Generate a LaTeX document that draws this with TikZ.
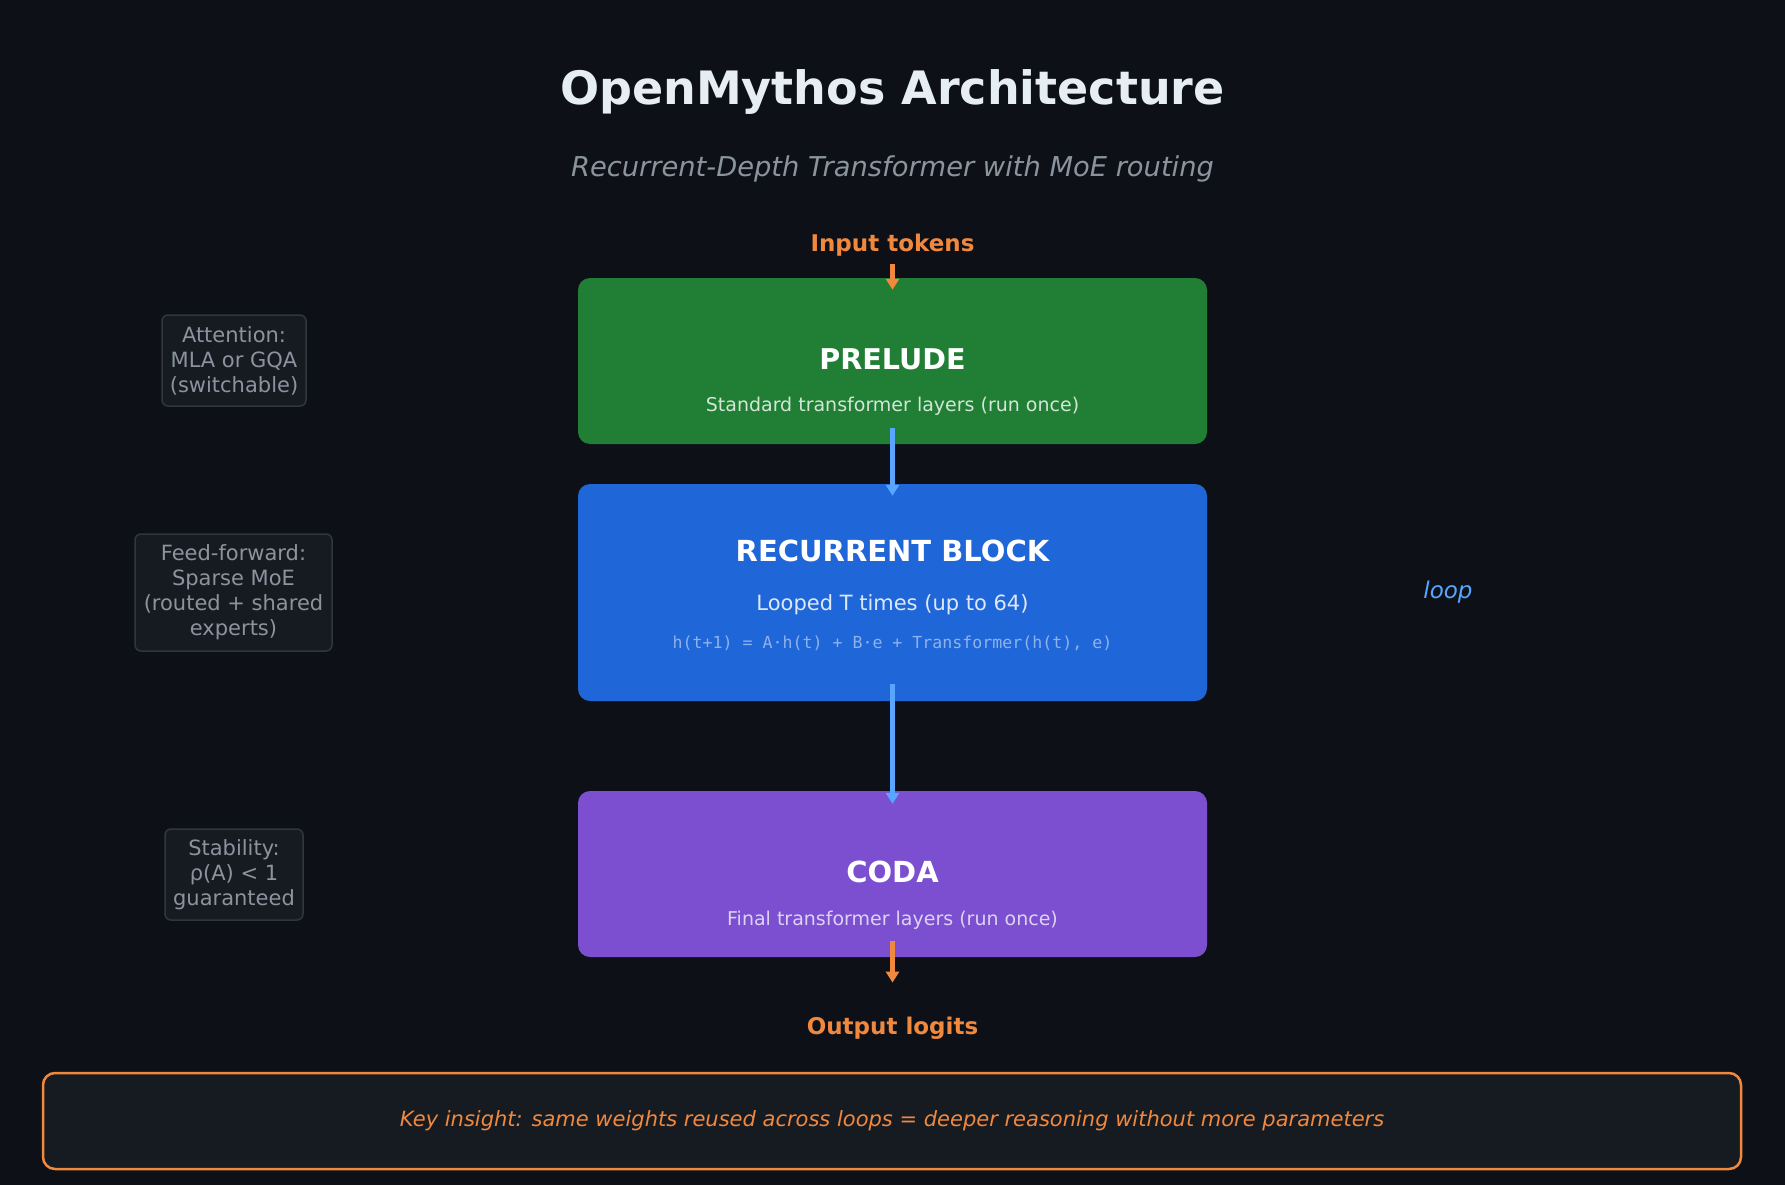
\documentclass[tikz,border=0pt]{standalone}
\usepackage{fontspec}
\setmainfont{DejaVu Sans}
\setmonofont{DejaVu Sans Mono}
\usetikzlibrary{arrows.meta,calc}
\definecolor{bgc}{HTML}{0D1117}
\definecolor{titlec}{HTML}{E6EDF3}
\definecolor{mutedc}{HTML}{8B949E}
\definecolor{orangec}{HTML}{F0883E}
\definecolor{bluec}{HTML}{58A6FF}
\definecolor{prelc}{HTML}{217F35}
\definecolor{recc}{HTML}{1F66D8}
\definecolor{codac}{HTML}{7B4FCF}
\definecolor{panelc}{HTML}{161B22}
\definecolor{borderc}{HTML}{30363D}
\newcommand{\fs}[1]{\fontsize{#1}{#1}\selectfont}
\newcommand{\fsl}[2]{\fontsize{#1}{#2}\selectfont}
\tikzset{
  blockbox/.style={rectangle, rounded corners=12pt, inner sep=0pt, minimum width=629pt},
  sidebox/.style={rectangle, rounded corners=6pt, draw=borderc, line width=1.5pt, fill=panelc, inner sep=0pt, text=mutedc, align=center, font=\fsl{21}{25}},
  headtxt/.style={text=white, font=\fs{29}\bfseries, inner sep=0pt},
  subtxt/.style={text=white, text opacity=0.8, font=\fs{19}, inner sep=0pt},
  ioTxt/.style={text=orangec, font=\fs{23}\bfseries, inner sep=0pt},
  orangearrow/.style={draw=orangec, line width=4.5pt, -{Triangle[length=11pt,width=13pt]}},
  bluearrow/.style={draw=bluec, line width=4.5pt, -{Triangle[length=11pt,width=13pt]}}
}
\begin{document}
\begin{tikzpicture}[x=1pt,y=-1pt]
\fill[bgc] (0,0) rectangle (1785,1185);
\useasboundingbox (0,0) rectangle (1785,1185);

% title
\node[text=titlec, font=\fs{46}\bfseries, inner sep=0pt] (title) at (892.5,91.5) {OpenMythos Architecture};
\node[text=mutedc, font=\fs{27.3}\itshape, inner sep=0pt] (subtitle) at (892.5,169) {Recurrent-Depth Transformer with MoE routing};

% input
\node[ioTxt] (input) at (892.5,245) {Input tokens};

% blocks
\node[blockbox, fill=prelc, minimum height=166pt] (prelude) at (892.5,361) {};
\node[headtxt, font=\fs{28.6}\bfseries] (prelt) at (892.5,359) {PRELUDE};
\node[subtxt] (prels) at (892.5,406) {Standard transformer layers (run once)};

\node[blockbox, fill=recc, minimum height=217pt] (rec) at (892.5,592.5) {};
\node[headtxt] (rect) at (892.5,551) {RECURRENT BLOCK};
\node[subtxt, text opacity=0.85, font=\fs{21}] (recs) at (892.5,605) {Looped T times (up to 64)};
\node[subtxt, text opacity=0.5, font=\fs{16.6}\ttfamily] (recf) at (892.5,643) {h(t+1) = A·h(t) + B·e + Transformer(h(t), e)};

\node[blockbox, fill=codac, minimum height=166pt] (coda) at (892.5,874) {};
\node[headtxt] (codat) at (892.5,872) {CODA};
\node[subtxt, text opacity=0.75] (codas) at (892.5,920) {Final transformer layers (run once)};

\node[ioTxt] (output) at (892.5,1028) {Output logits};

% loop label
\node[text=bluec, font=\fs{23}\itshape, inner sep=0pt] (loop) at (1448,592) {loop};

% side notes
\node[sidebox, minimum width=144pt, minimum height=91pt] (att) at (234,360.5) {Attention:\\MLA or GQA\\(switchable)};
\node[sidebox, minimum width=197pt, minimum height=117pt] (ff) at (233.5,592.5) {Feed-forward:\\Sparse MoE\\(routed + shared\\experts)};
\node[sidebox, minimum width=138pt, minimum height=91pt] (stab) at (234,874.5) {Stability:\\ρ(A) < 1\\guaranteed};

% key insight
\node[rectangle, rounded corners=12pt, draw=orangec, line width=2.5pt, fill=panelc, minimum width=1698pt, minimum height=96pt, inner sep=0pt] (key) at (892,1121) {};
\node[text=orangec, font=\fs{21}\itshape, inner sep=0pt] (keyt) at (892,1121) {Key insight: same weights reused across loops = deeper reasoning without more parameters};

% arrows
\coordinate (a1s) at ($(input.south)+(0,8)$);
\coordinate (a1e) at ($(prelude.north)+(0,12)$);
\draw[orangearrow] (a1s) -- (a1e);
\coordinate (a2s) at ($(prelude.south)+(0,-16)$);
\coordinate (a2e) at ($(rec.north)+(0,12)$);
\draw[bluearrow] (a2s) -- (a2e);
\coordinate (a3s) at ($(rec.south)+(0,-17)$);
\coordinate (a3e) at ($(coda.north)+(0,13)$);
\draw[bluearrow] (a3s) -- (a3e);
\coordinate (a4s) at ($(coda.south)+(0,-16)$);
\coordinate (a4e) at ($(output.north)+(0,-34)$);
\draw[orangearrow] (a4s) -- (a4e);
\end{tikzpicture}
\end{document}
